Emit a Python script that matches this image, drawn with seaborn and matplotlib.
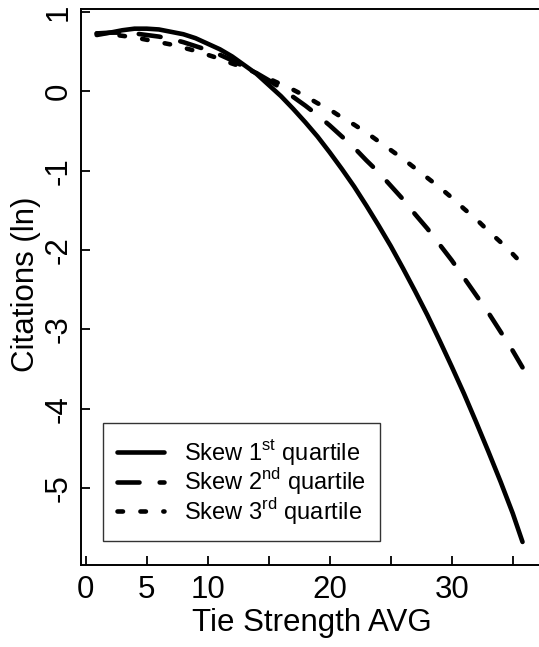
import matplotlib
matplotlib.use("Agg")
import matplotlib.pyplot as plt
import seaborn as sns
import pandas as pd

# values
tie_strength = [0.9, 2, 3, 4, 5, 6, 7, 8, 9, 10, 11, 12, 13, 14, 15, 16, 17, 18,
                19, 20, 21, 22, 23, 24, 25, 26, 27, 28, 29, 30, 31, 32, 33, 34, 35, 35.8]
skew_q1 = [0.71, 0.74, 0.77, 0.79, 0.79, 0.78, 0.75, 0.72, 0.67, 0.60, 0.53, 0.44,
           0.33, 0.22, 0.08, -0.06, -0.22, -0.39, -0.57, -0.77, -0.98, -1.20, -1.44, -1.69,
           -1.95, -2.23, -2.52, -2.82, -3.14, -3.47, -3.81, -4.17, -4.54, -4.92, -5.32, -5.68]
skew_q2 = [0.73, 0.74, 0.74, 0.73, 0.71, 0.69, 0.66, 0.62, 0.57, 0.52, 0.46, 0.39,
           0.31, 0.23, 0.14, 0.04, -0.07, -0.18, -0.30, -0.43, -0.57, -0.71, -0.87, -1.02,
           -1.19, -1.36, -1.55, -1.73, -1.93, -2.13, -2.35, -2.57, -2.79, -3.03, -3.27, -3.48]
skew_q3 = [0.73, 0.72, 0.70, 0.68, 0.65, 0.62, 0.59, 0.55, 0.51, 0.46, 0.41, 0.35,
           0.30, 0.23, 0.16, 0.09, 0.02, -0.06, -0.15, -0.23, -0.33, -0.42, -0.52, -0.63,
           -0.74, -0.85, -0.97, -1.09, -1.21, -1.34, -1.48, -1.61, -1.76, -1.90, -2.05, -2.18]

series_labels = [r"Skew 1$^{\mathrm{st}}$ quartile",
                 r"Skew 2$^{\mathrm{nd}}$ quartile",
                 r"Skew 3$^{\mathrm{rd}}$ quartile"]
x_ticks = [0, 5, 10, 15, 20, 25, 30, 35]
x_ticklabels = ["0", "5", "10", "", "20", "", "30", ""]
y_ticks = [1, 0, -1, -2, -3, -4, -5]

n = len(tie_strength)
df = pd.DataFrame({
    "x": tie_strength * 3,
    "y": skew_q1 + skew_q2 + skew_q3,
    "series": ["q1"] * n + ["q2"] * n + ["q3"] * n,
})

sns.set_style("ticks")
plt.rcParams["font.family"] = ["Liberation Sans", "DejaVu Sans"]
plt.rcParams["mathtext.fontset"] = "custom"
plt.rcParams["mathtext.rm"] = "Liberation Sans"
for key in ["text.color", "axes.labelcolor", "xtick.color", "ytick.color", "axes.edgecolor"]:
    plt.rcParams[key] = "black"

fig = plt.figure(figsize=(5.39, 6.47), dpi=100)
ax = fig.add_axes([0.1503, 0.1267, 0.861, 0.8594])

sns.lineplot(data=df, x="x", y="y", style="series",
             dashes={"q1": "", "q2": (4.8, 4.4), "q3": (1.2, 3.8)},
             color="black", linewidth=3.3, legend=False, ax=ax)

for line in ax.lines:
    line.set_dash_capstyle("round")
    line.set_solid_capstyle("round")
    line.set_solid_joinstyle("round")

ax.set_xlim(-0.385, 37.65)
ax.set_ylim(-5.971, 1.038)
ax.set_xticks(x_ticks)
ax.set_xticklabels(x_ticklabels)
ax.set_yticks(y_ticks)
ax.set_yticklabels([str(v) for v in y_ticks], rotation=90, va="center")

for side in ["left", "bottom", "top", "right"]:
    ax.spines[side].set_linewidth(1.4)

ax.tick_params(axis="both", direction="in", length=6.5, width=1.3, labelsize=22.5)
ax.tick_params(axis="x", pad=7)
ax.tick_params(axis="y", pad=5)

ax.set_xlabel("Tie Strength AVG", fontsize=22.5)
ax.set_ylabel("Citations (ln)", fontsize=22.5)
ax.xaxis.set_label_coords(0.497, -0.078)
ax.yaxis.set_label_coords(-0.087, 0.505)

leg = ax.legend(handles=ax.lines[:3], labels=series_labels, loc="upper left",
                bbox_to_anchor=(103 / 539, 1 - 423 / 647), bbox_transform=fig.transFigure,
                fontsize=17, frameon=True, fancybox=False, handlelength=2.0,
                handletextpad=0.85, labelspacing=-0.05, borderpad=0.6, borderaxespad=0)
leg.get_frame().set_edgecolor("black")
leg.get_frame().set_linewidth(1.0)

fig.savefig("out.png", dpi=100, facecolor="white")
